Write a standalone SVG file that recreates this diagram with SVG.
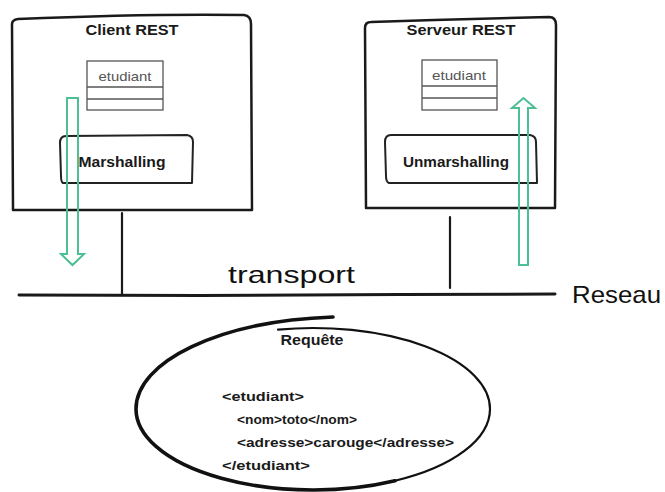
<svg xmlns="http://www.w3.org/2000/svg" width="665" height="492" viewBox="0 0 665 492">
<defs>
<style>
.frame{fill:none;stroke:#1a1a1a;stroke-width:2.5;stroke-linecap:round;stroke-linejoin:round}
.box{fill:none;stroke:#222;stroke-width:2;stroke-linecap:round;stroke-linejoin:round}
.cls{fill:#fff;stroke:#555;stroke-width:1.3}
.title{font-family:"Liberation Sans",Arial,sans-serif;font-weight:bold;font-size:15px;fill:#1a1a1a;text-anchor:middle}
.cname{font-family:"Liberation Sans",Arial,sans-serif;font-size:13px;fill:#555;text-anchor:middle}
.big{font-family:"Liberation Sans",Arial,sans-serif;font-size:24px;fill:#111}
.xml{font-family:"Liberation Sans",Arial,sans-serif;font-weight:bold;font-size:12.5px;fill:#1a1a1a}
.green{fill:none;stroke:#4cbf95;stroke-width:2;stroke-linejoin:miter}
.wire{fill:none;stroke:#1a1a1a;stroke-width:2.2;stroke-linecap:round}
</style>
</defs>
<rect width="665" height="492" fill="#fff"/>

<g id="client">
<path class="frame" d="M12,24 Q12,20 18,19 C90,16 170,14 244,15 Q251,16 251,24 L252,210 L13,210 L12,24 Z"/>
<text class="title" x="132" y="35" textLength="93" lengthAdjust="spacingAndGlyphs">Client REST</text>
<g id="client-etudiant">
<rect class="cls" x="87" y="61" width="76" height="49"/>
<line class="cls" x1="87" y1="87" x2="163" y2="87"/>
<line class="cls" x1="87" y1="99" x2="163" y2="99"/>
<text class="cname" x="125" y="81" textLength="53" lengthAdjust="spacingAndGlyphs">etudiant</text>
</g>
<g id="marshalling">
<path class="box" d="M66,136 L187,135 Q193,136 193,142 L192,183 L63,183 Q61,182 61,176 L60,143 Q60,136 66,136 Z"/>
<text class="title" x="122" y="167" textLength="87" lengthAdjust="spacingAndGlyphs">Marshalling</text>
</g>
</g>

<g id="server">
<path class="frame" d="M365,28 Q365,22 371,22 C430,20 500,18 549,17 Q556,17 556,25 L555,208 L366,208 L365,28 Z"/>
<text class="title" x="461" y="35" textLength="109" lengthAdjust="spacingAndGlyphs">Serveur REST</text>
<g id="server-etudiant">
<rect class="cls" x="422" y="60" width="75" height="50"/>
<line class="cls" x1="422" y1="86" x2="497" y2="86"/>
<line class="cls" x1="422" y1="98" x2="497" y2="98"/>
<text class="cname" x="459" y="80" textLength="54" lengthAdjust="spacingAndGlyphs">etudiant</text>
</g>
<g id="unmarshalling">
<path class="box" d="M391,135 L530,135 Q536,136 536,142 L537,183 L389,183 Q386,182 386,176 L385,142 Q385,135 391,135 Z"/>
<text class="title" x="456" y="167" textLength="106" lengthAdjust="spacingAndGlyphs">Unmarshalling</text>
</g>
</g>

<g id="network">
<path d="M19,295 L200,295.5 L400,294.5 L555,294" fill="none" stroke="#1a1a1a" stroke-width="3" stroke-linecap="round"/>
<text class="big" x="228" y="283" textLength="127" lengthAdjust="spacingAndGlyphs">transport</text>
<text class="big" x="572" y="303" textLength="89" lengthAdjust="spacingAndGlyphs">Reseau</text>
</g>

<g id="connectors">
<line class="wire" x1="122" y1="213" x2="122" y2="295"/>
<line class="wire" x1="450" y1="217" x2="450" y2="288"/>
<path class="green" d="M67,98 L78,98 L78,254 L84,254 L72.5,265 L61,254 L67,254 Z"/>
<path class="green" d="M519,265 L528,265 L528,108 L535,108 L523.5,98 L512,108 L519,108 Z"/>
</g>

<g id="request">
<path d="M278,329.6 A177,81 0 0 1 490,409 A177,81 0 0 1 395,480.8" fill="none" stroke="#111" stroke-width="2.2" stroke-linecap="round"/>
<path d="M395,480.8 A177,81 0 0 1 136,409 C136,362 218,321 333,317" fill="none" stroke="#111" stroke-width="3.6" stroke-linecap="round"/>
<text class="title" x="312" y="345" textLength="63" lengthAdjust="spacingAndGlyphs" style="font-size:14px">Requête</text>
<text class="xml" x="222" y="401" textLength="82" lengthAdjust="spacingAndGlyphs">&lt;etudiant&gt;</text>
<text class="xml" x="237" y="424" textLength="120" lengthAdjust="spacingAndGlyphs">&lt;nom&gt;toto&lt;/nom&gt;</text>
<text class="xml" x="237" y="447" textLength="217" lengthAdjust="spacingAndGlyphs">&lt;adresse&gt;carouge&lt;/adresse&gt;</text>
<text class="xml" x="222" y="470" textLength="88" lengthAdjust="spacingAndGlyphs">&lt;/etudiant&gt;</text>
</g>
</svg>
